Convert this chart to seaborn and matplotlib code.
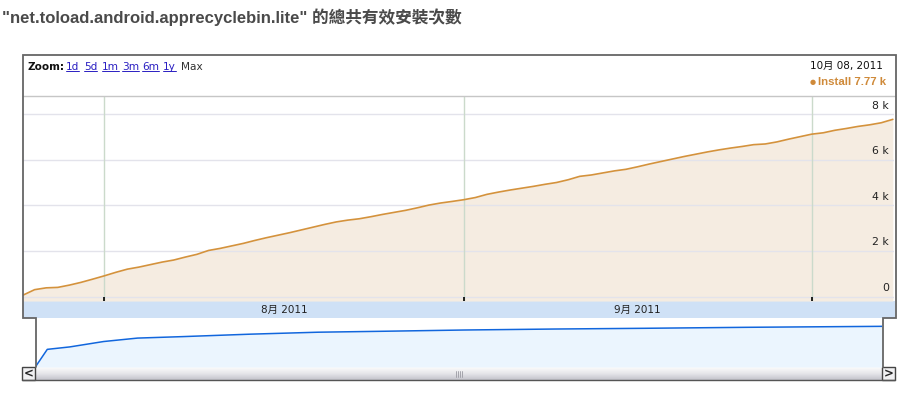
import numpy as np
import pandas as pd
import matplotlib
matplotlib.use("Agg")
import matplotlib.pyplot as plt
import seaborn as sns
from matplotlib.patches import Rectangle
from matplotlib.transforms import blended_transform_factory

# ---------------- data ----------------
title = '"net.toload.android.apprecyclebin.lite" 的總共有效安裝次數'
start_date = "2011-07-25"
install = [60, 300, 380, 400, 500, 620, 760, 905, 1060, 1200,
           1290, 1400, 1510, 1600, 1730, 1850, 2020, 2110, 2220, 2330,
           2460, 2580, 2690, 2800, 2920, 3040, 3160, 3270, 3350, 3410,
           3500, 3600, 3690, 3780, 3890, 4010, 4100, 4170, 4245, 4340,
           4480, 4580, 4670, 4750, 4830, 4920, 5000, 5120, 5270, 5330,
           5420, 5510, 5580, 5690, 5810, 5920, 6030, 6140, 6240, 6340,
           6430, 6510, 6580, 6660, 6690, 6780, 6900, 7010, 7120, 7180,
           7290, 7370, 7460, 7530, 7620, 7770]
nav_days = [0, 1, 3, 6, 9, 13, 19, 25, 31, 38, 46, 54, 63, 69, 75]
nav_vals = [2, 36, 41, 52, 59, 62, 67, 71, 73, 75.5, 77.5, 79, 81, 82, 83]
y_ticks = [0, 2000, 4000, 6000, 8000]
y_tick_labels = ["0", "2 k", "4 k", "6 k", "8 k"]
month_starts = ["2011-08-01", "2011-09-01", "2011-10-01"]
month_labels = ["8月 2011", "9月 2011"]
zoom_links = ["1d", "5d", "1m", "3m", "6m", "1y"]
date_label = "10月 08, 2011"
legend_label = "Install 7.77 k"

# ---------------- style ----------------
sns.set_theme(style="white")
plt.rcParams["font.family"] = ["DejaVu Sans", "Noto Sans CJK TC"]

W, H = 909, 395
fig = plt.figure(figsize=(W / 100, H / 100), dpi=100)
fig.patch.set_facecolor("white")


def frac(x0, y0, x1, y1):
    return [x0 / W, 1 - y1 / H, (x1 - x0) / W, (y1 - y0) / H]


bg = fig.add_axes([0, 0, 1, 1])
bg.set_xlim(0, W)
bg.set_ylim(H, 0)
bg.axis("off")

dates = pd.date_range(start_date, periods=len(install), freq="D")
df = pd.DataFrame({"date": dates, "install": install})
t0 = pd.Timestamp(start_date)
xlim = (t0, t0 + pd.Timedelta(days=75.1))

# title
bg.text(2, 17, title, ha="left", va="center", fontsize=12.0, fontweight="bold",
        color="#4a4a4a", family=["Liberation Sans", "Noto Sans CJK TC"])

# month band
bg.add_patch(Rectangle((23, 301), 872, 17, color="#cfe1f6", lw=0))
ms = pd.to_datetime(month_starts)

# ---------------- main chart ----------------
ax = fig.add_axes(frac(23, 96, 894, 301))
ax.set_facecolor("white")
ax.fill_between(df["date"], df["install"], -200, color="#f5ece1", lw=0, zorder=1)
sns.lineplot(data=df, x="date", y="install", ax=ax, color="#d4923c", lw=1.2, zorder=3)
ax.set_xlim(*xlim)
ax.set_ylim(-197, 8794)
ax.set_yticks([])
ax.set_xticks([])
ax.grid(False)
for v in y_ticks:
    ax.axhline(v, color="#e3e3eb", lw=1, zorder=2)
for m in ms:
    ax.axvline(m, color="#cbdacb", lw=1, zorder=2)
# month tick marks at the bottom edge
tick_tr = blended_transform_factory(ax.transData, ax.transAxes)
ax.vlines(ms, 0, 4.5 / 205, transform=tick_tr, color="black", lw=1.2, zorder=6)
ax.set_xlabel("")
ax.set_ylabel("")
for s in ax.spines.values():
    s.set_visible(False)
tr = blended_transform_factory(ax.transAxes, ax.transData)
for v, lab in zip(y_ticks, y_tick_labels):
    ax.annotate(lab, xy=(0.9945, v), xycoords=tr, xytext=(0, 2.5),
                textcoords="offset points", ha="right", va="bottom",
                fontsize=7.8, color="#222222", zorder=5)

# month labels (centred between month starts)
for i, lab in enumerate(month_labels):
    mid = ms[i] + (ms[i + 1] - ms[i]) / 2
    x_px = 23 + (mid - xlim[0]) / (xlim[1] - xlim[0]) * 871
    bg.text(x_px, 309.5, lab, ha="center", va="center", fontsize=7.5, color="#222222")

# ---------------- navigator ----------------
nav = fig.add_axes(frac(36, 318, 882, 367))
nav_dates = [t0 + pd.Timedelta(days=d) for d in nav_days]
ndf = pd.DataFrame({"date": nav_dates, "v": nav_vals})
nav.fill_between(ndf["date"], ndf["v"], 0, color="#ebf5fe", lw=0)
sns.lineplot(data=ndf, x="date", y="v", ax=nav, color="#1166dd", lw=1.1)
nav.set_xlim(t0, t0 + pd.Timedelta(days=75))
nav.set_ylim(0, 100)
nav.axis("off")

# ---------------- scrollbar ----------------
grad = np.linspace(0, 1, 20).reshape(-1, 1)
bg.imshow(grad, extent=(22, 895, 380, 367), aspect="auto",
          cmap=matplotlib.colors.LinearSegmentedColormap.from_list(
              "sb", ["#fbfbfb", "#e6e6ea", "#c4c4cc"]), zorder=1)
for x0 in (22, 882):
    bg.add_patch(Rectangle((x0, 367), 13, 13, facecolor="#f0f0f2",
                           edgecolor="#444444", lw=1, zorder=3))
bg.text(28.5, 373.5, "<", ha="center", va="center", fontsize=8.5, fontweight="bold", color="#222", zorder=4)
bg.text(888.5, 373.5, ">", ha="center", va="center", fontsize=8.5, fontweight="bold", color="#222", zorder=4)
for gx in np.arange(456, 464, 2):
    bg.plot([gx, gx], [370.5, 376.5], color="#9a9aa2", lw=0.6, zorder=4)
bg.plot([22, 895], [380, 380], color="#555555", lw=1, zorder=4)

# ---------------- header ----------------
bg.text(27, 67, "Zoom:", ha="left", va="center", fontsize=7.6, fontweight="bold", color="#111111")
link_x = [66, 84, 102, 122, 142, 163]
for lx, lab in zip(link_x, zoom_links):
    bg.text(lx, 67, lab, ha="left", va="center", fontsize=7.6, color="#2a1fc2")
bg.text(181, 67, "Max", ha="left", va="center", fontsize=7.6, color="#333333")
fig.canvas.draw()
inv = bg.transData.inverted()
for t in bg.texts:
    if t.get_text() in zoom_links:
        bb = t.get_window_extent()
        (xa, ya), (xb, yb) = inv.transform([[bb.x0, bb.y0], [bb.x1, bb.y1]])
        bg.plot([xa, xb], [max(ya, yb) - 1.0] * 2, color="#2a1fc2", lw=0.7)

bg.text(883, 66, date_label, ha="right", va="center", fontsize=7.5, color="#111111")
bg.text(886, 82, legend_label, ha="right", va="center", fontsize=8.2, fontweight="bold",
        color="#cf8a3a", family=["Liberation Sans", "DejaVu Sans"])
bg.text(812.5, 82, "●", ha="center", va="center", fontsize=5, color="#cf8a3a")

# ---------------- frames (overlay) ----------------
ov = fig.add_axes([0, 0, 1, 1], zorder=10)
ov.set_xlim(0, W)
ov.set_ylim(H, 0)
ov.axis("off")
ov.patch.set_alpha(0)
ov.plot([23, 895], [95.5, 95.5], color="#c6c6c6", lw=1)
ov.plot([35.5, 35.5, 22.5, 22.5, 895.5, 895.5, 882.5, 882.5],
        [367, 317.5, 317.5, 54.5, 54.5, 317.5, 317.5, 367],
        color="#666666", lw=1.3, solid_joinstyle="miter")

fig.savefig("out.png", dpi=100, facecolor="white")
